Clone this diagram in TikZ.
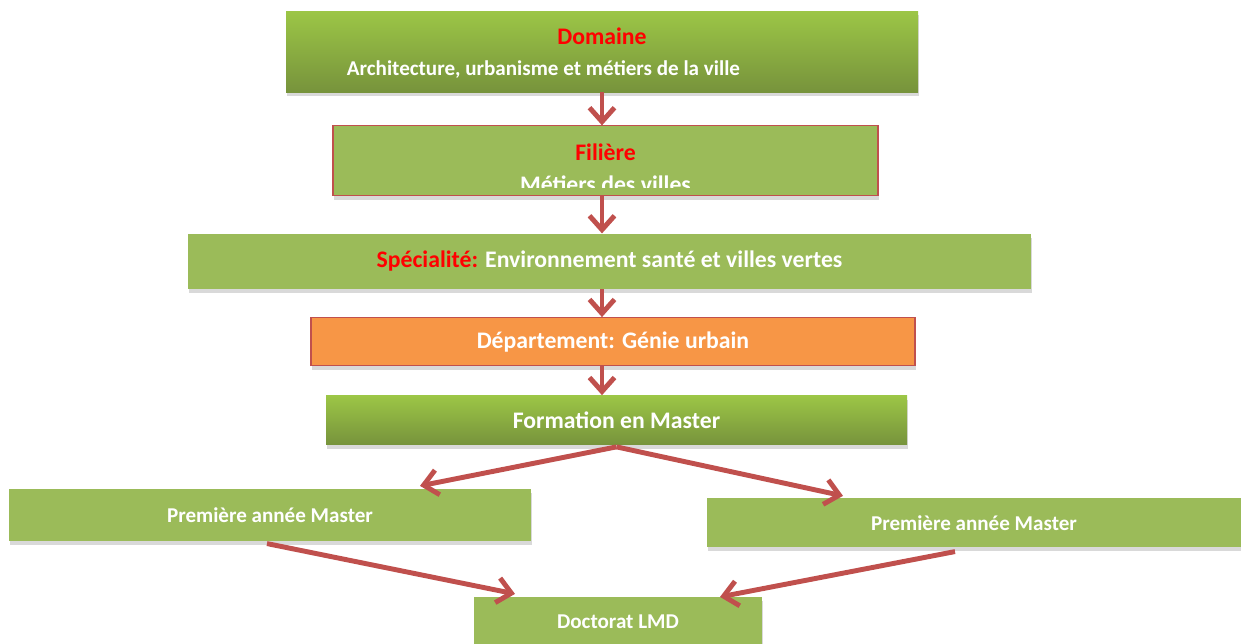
\documentclass[tikz,border=0pt]{standalone}
\usepackage{fontspec}
\setmainfont{Carlito}
\usetikzlibrary{arrows.meta,positioning,shadows}

\definecolor{boxgreen}{HTML}{9BBB59}
\definecolor{topgreen}{HTML}{9CC646}
\definecolor{botgreen}{HTML}{77933C}
\definecolor{boxorange}{HTML}{F79646}
\definecolor{arrowred}{HTML}{C0504D}
\definecolor{labelred}{HTML}{FF0000}

\begin{document}
\begin{tikzpicture}[
    block/.style={rectangle, inner sep=0pt, fill=boxgreen, text=white, font=\bfseries\fontsize{13.5}{15}\selectfont,
                  drop shadow={shadow xshift=0.02cm, shadow yshift=-0.08cm, opacity=0.3}},
    gradient/.style={block, top color=topgreen, bottom color=botgreen},
    outlined/.style={draw=arrowred, line width=0.6pt},
    smalltext/.style={font=\bfseries\fontsize{12}{14}\selectfont},
    boxtext/.style={inner sep=0pt, text=white, font=\bfseries\fontsize{13.5}{15}\selectfont},
    arrow/.style={draw=arrowred, line width=2.8pt, -{Straight Barb[length=0.28cm, width=0.5cm]}}
]
\useasboundingbox (0,0) rectangle (24.82,-12.86);

% Top level
\node[gradient, minimum width=12.64cm, minimum height=1.62cm] (domaine) at (12.04,-1.03) {};
\node[boxtext, text=labelred] (domainetitle) at ([yshift=0.31cm]domaine.center) {Domaine};
\node[boxtext, font=\bfseries\fontsize{12}{14}\selectfont] (domainetext) at ([xshift=-1.17cm, yshift=-0.37cm]domaine.center)
  {Architecture, urbanisme et métiers de la ville};

% Middle chain
\node[block, outlined, minimum width=10.9cm, minimum height=1.4cm, below=0.66cm of domaine, xshift=0.07cm] (filiere) {};
\node[boxtext, text=labelred] (filieretitle) at ([yshift=0.18cm]filiere.center) {Filière};
\begin{scope}
  \clip ([yshift=0.18cm]filiere.south west) rectangle (filiere.north east);
  \node[boxtext, anchor=base] (filieretext) at ([yshift=-0.63cm]filiere.center) {Métiers des villes};
\end{scope}

\node[block, minimum width=16.86cm, minimum height=1.1cm, below=0.74cm of filiere, xshift=0.08cm] (specialite)
  {\textcolor{labelred}{Spécialité:} Environnement santé et villes vertes};
\node[block, outlined, fill=boxorange, minimum width=12.08cm, minimum height=0.96cm, below=0.56cm of specialite, xshift=0.07cm] (departement)
  {Département: Génie urbain};
\node[gradient, minimum width=11.62cm, minimum height=0.98cm, below=0.58cm of departement, xshift=0.07cm] (formation)
  {Formation en Master};

% Bottom level
\node[block, smalltext, minimum width=10.44cm, minimum height=1.04cm, below=0.88cm of formation, xshift=-6.93cm] (premiereA)
  {Première année Master};
\node[block, smalltext, minimum width=10.68cm, minimum height=0.98cm, below=1.06cm of formation, xshift=7.15cm] (premiereB)
  {Première année Master};
\node[block, smalltext, minimum width=5.76cm, minimum height=1cm, below=3.04cm of formation, xshift=0.03cm] (doctorat)
  {Doctorat LMD};

% Arrows - vertical chain
\draw[arrow] (domaine.south) -- (domaine.south |- filiere.north);
\draw[arrow] (domaine.south |- filiere.south) -- (domaine.south |- specialite.north);
\draw[arrow] (domaine.south |- specialite.south) -- (domaine.south |- departement.north);
\draw[arrow] (domaine.south |- departement.south) -- (domaine.south |- formation.north);

% Arrows - to the two years and to the doctorate
\draw[arrow] ([yshift=-0.04cm]formation.south) -- ([xshift=3cm, yshift=0.06cm]premiereA.north);
\draw[arrow] ([yshift=-0.04cm]formation.south) -- ([xshift=-2.62cm, yshift=0.04cm]premiereB.north);
\draw[arrow] ([xshift=-0.06cm, yshift=-0.04cm]premiereA.south) -- ([xshift=-2.06cm, yshift=0.06cm]doctorat.north);
\draw[arrow] ([xshift=-0.38cm, yshift=-0.08cm]premiereB.south) -- ([xshift=2.04cm]doctorat.north);
\end{tikzpicture}
\end{document}
